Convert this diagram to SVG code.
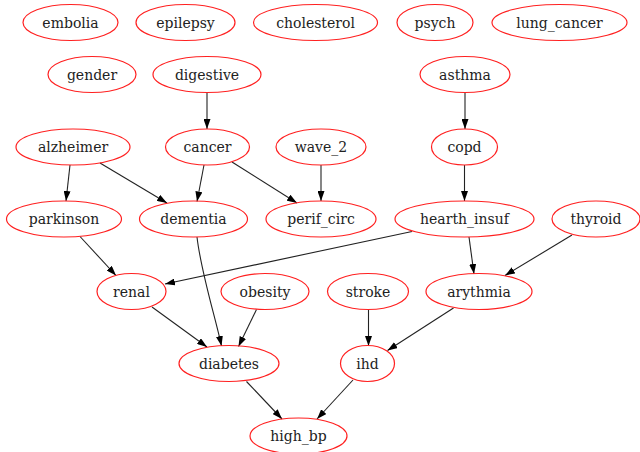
<svg xmlns="http://www.w3.org/2000/svg" width="640" height="452" viewBox="0 0 640 452">
  <style>
    .node ellipse { fill: none; stroke: #ff2020; stroke-width: 1.2; }
    .node text { font-family: "DejaVu Serif", "Liberation Serif", serif; font-size: 14px; fill: #222; text-anchor: middle; }
    .edges path { fill: none; stroke: #222; stroke-width: 1.1; marker-end: url(#arrow); }
  </style>
  <defs>
    <marker id="arrow" viewBox="0 0 10 7" refX="10" refY="3.5" markerWidth="10" markerHeight="7" markerUnits="userSpaceOnUse" orient="auto">
      <path d="M0,0 L10,3.5 L0,7 Z" fill="#000"/>
    </marker>
  </defs>
  <rect width="640" height="452" fill="#fff"/>

  <g class="edges">
    <path d="M207,92 L207,129"/>
    <path d="M465,92 L465,129"/>
    <path d="M70,165 L66,201"/>
    <path d="M100,163 L167,203"/>
    <path d="M204,165 L197,201.5"/>
    <path d="M232,162 L297,203"/>
    <path d="M321,165 L321,201"/>
    <path d="M464.5,165 L464.5,201"/>
    <path d="M80,236.5 L116,275.5"/>
    <path d="M197,237 C201,272 215,316 221.5,346"/>
    <path d="M412,231.5 L165,284"/>
    <path d="M469,237 L474,274"/>
    <path d="M572,235 L505,275.5"/>
    <path d="M152,307 L207,347"/>
    <path d="M256.5,309.5 L238.5,346.5"/>
    <path d="M368.5,309 L368.5,346"/>
    <path d="M453.5,308 L387.5,350.5"/>
    <path d="M246.5,381.5 L282,419"/>
    <path d="M353,380 L317,419"/>
  </g>

  <g id="embolia" class="node"><ellipse cx="70.5" cy="22.5" rx="47.5" ry="18"/><text x="70.5" y="27.5">embolia</text></g>
  <g id="epilepsy" class="node"><ellipse cx="185.5" cy="22.5" rx="49.5" ry="18"/><text x="185.5" y="27.5">epilepsy</text></g>
  <g id="cholesterol" class="node"><ellipse cx="315.5" cy="22.5" rx="62" ry="18"/><text x="315.5" y="27.5">cholesterol</text></g>
  <g id="psych" class="node"><ellipse cx="435" cy="22.5" rx="38" ry="18"/><text x="435" y="27.5">psych</text></g>
  <g id="lung_cancer" class="node"><ellipse cx="559.5" cy="22.5" rx="67.5" ry="18"/><text x="559.5" y="27.5">lung_cancer</text></g>

  <g id="gender" class="node"><ellipse cx="92" cy="74.5" rx="44" ry="18"/><text x="92" y="79.5">gender</text></g>
  <g id="digestive" class="node"><ellipse cx="207" cy="74.5" rx="54" ry="18"/><text x="207" y="79.5">digestive</text></g>
  <g id="asthma" class="node"><ellipse cx="465" cy="74.5" rx="45" ry="18"/><text x="465" y="79.5">asthma</text></g>

  <g id="alzheimer" class="node"><ellipse cx="73" cy="147" rx="57" ry="18"/><text x="73" y="152">alzheimer</text></g>
  <g id="cancer" class="node"><ellipse cx="207.5" cy="147" rx="42" ry="18"/><text x="207.5" y="152">cancer</text></g>
  <g id="wave_2" class="node"><ellipse cx="321" cy="147" rx="45" ry="18"/><text x="321" y="152">wave_2</text></g>
  <g id="copd" class="node"><ellipse cx="464.5" cy="147" rx="33" ry="18"/><text x="464.5" y="152">copd</text></g>

  <g id="parkinson" class="node"><ellipse cx="64" cy="219" rx="57.5" ry="18"/><text x="64" y="224">parkinson</text></g>
  <g id="dementia" class="node"><ellipse cx="193.5" cy="219" rx="54" ry="18"/><text x="193.5" y="224">dementia</text></g>
  <g id="perif_circ" class="node"><ellipse cx="321" cy="219" rx="55" ry="18"/><text x="321" y="224">perif_circ</text></g>
  <g id="hearth_insuf" class="node"><ellipse cx="464.5" cy="219" rx="69.5" ry="18"/><text x="464.5" y="224">hearth_insuf</text></g>
  <g id="thyroid" class="node"><ellipse cx="596" cy="219" rx="44" ry="18"/><text x="596" y="224">thyroid</text></g>

  <g id="renal" class="node"><ellipse cx="131.5" cy="291.5" rx="34.5" ry="18"/><text x="131.5" y="296.5">renal</text></g>
  <g id="obesity" class="node"><ellipse cx="265" cy="291.5" rx="44" ry="18"/><text x="265" y="296.5">obesity</text></g>
  <g id="stroke" class="node"><ellipse cx="368" cy="291.5" rx="40.5" ry="18"/><text x="368" y="296.5">stroke</text></g>
  <g id="arythmia" class="node"><ellipse cx="479" cy="291.5" rx="53" ry="18"/><text x="479" y="296.5">arythmia</text></g>

  <g id="diabetes" class="node"><ellipse cx="229" cy="363.5" rx="50" ry="18"/><text x="229" y="368.5">diabetes</text></g>
  <g id="ihd" class="node"><ellipse cx="367.5" cy="363.5" rx="27" ry="18"/><text x="367.5" y="368.5">ihd</text></g>

  <g id="high_bp" class="node"><ellipse cx="298.5" cy="436" rx="48.5" ry="18"/><text x="298.5" y="441">high_bp</text></g>
</svg>
